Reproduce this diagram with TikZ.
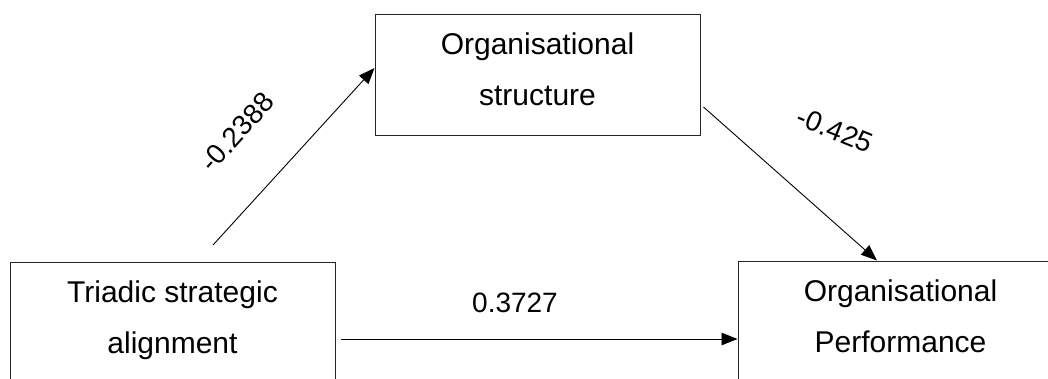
\documentclass[tikz,border=0pt]{standalone}
\usepackage{fontspec}
\setmainfont{Liberation Sans}
\usetikzlibrary{arrows.meta}
\begin{document}
\begin{tikzpicture}[x=1pt,y=-1pt,
  box/.style={draw=black!85, line width=1pt, minimum width=325pt, minimum height=121pt,
    inner sep=0pt, align=center, text height=73pt, text depth=12pt,
    font=\fontsize{30}{51}\selectfont},
  link/.style={draw=black, line width=0.9pt, -{Triangle[length=16pt,width=12.5pt]}},
  coef/.style={font=\fontsize{28}{34}\selectfont, inner sep=0pt}]
\useasboundingbox (0,0) rectangle (1048,378);
\clip (0,0) rectangle (1048,378);
\fill[white] (0,0) rectangle (1048,378);

% variables
\node[box] (org)  at (537.5,74.5)  {Organisational\\structure};
\node[box] (tsa)  at (172.5,322.5) {Triadic strategic\\alignment};
\node[box] (perf) at (900.5,321.5) {Organisational\\Performance};

% paths between the variables
\coordinate (s1) at (213,245);
\draw[link] (s1) -- ([yshift=6.5pt]org.west);
\draw[link] ([xshift=3pt,yshift=-32.5pt]org.east) -- ([xshift=-23.5pt]perf.north);
\draw[link] ([xshift=5pt,yshift=-16.5pt]tsa.east) -- ([yshift=-17.5pt]perf.west);

% path coefficients
\node[coef, rotate=48]  (c1) at (237,132) {-0.2388};
\node[coef, rotate=-22] (c2) at (835,130) {-0.425};
\node[coef, anchor=base] (c3) at (515,312) {0.3727};
\end{tikzpicture}
\end{document}
